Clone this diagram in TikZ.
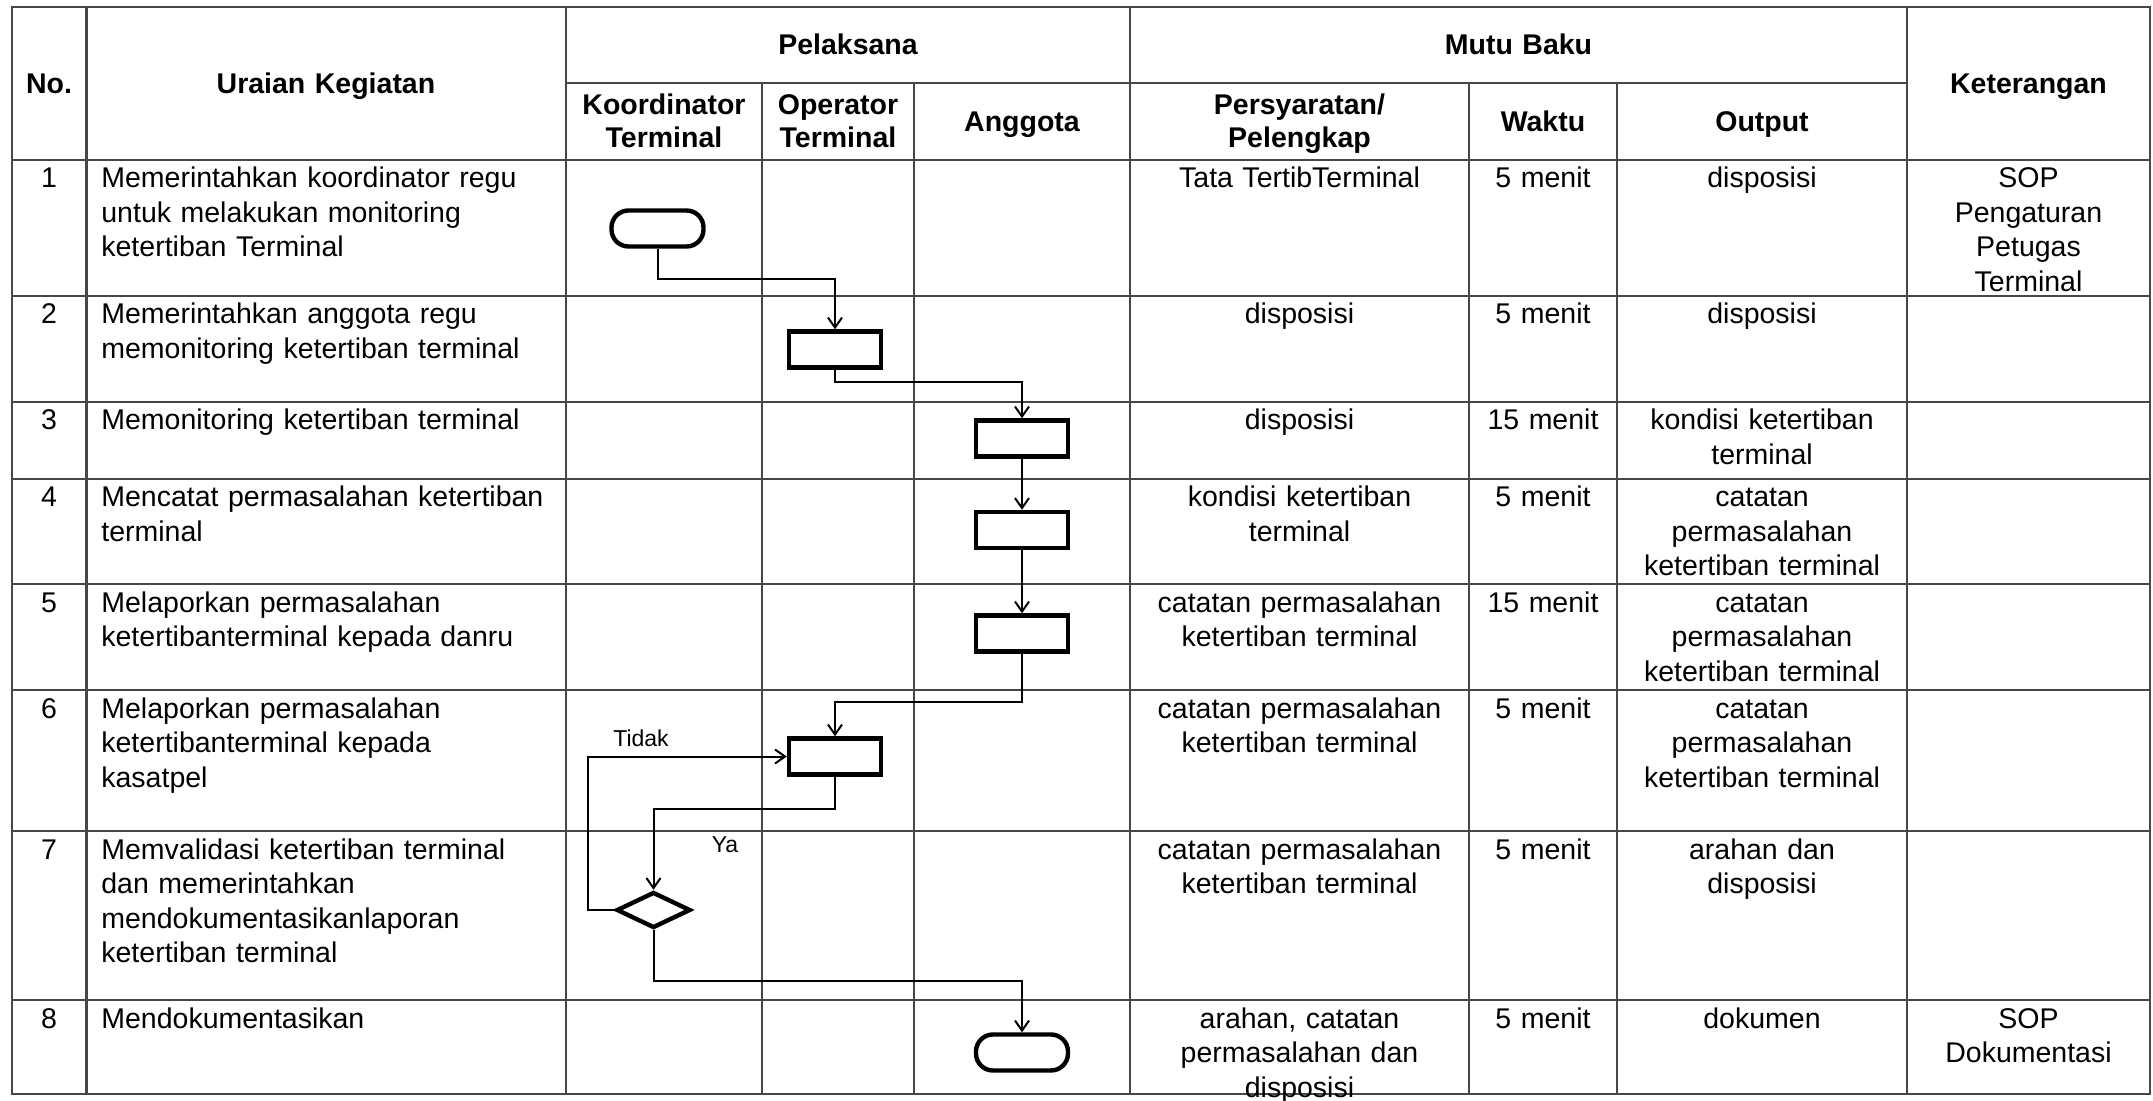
\documentclass[tikz,border=0pt]{standalone}
\usepackage{fontspec}
\setmainfont{Liberation Sans}
\usetikzlibrary{arrows.meta,shapes.geometric}
\begin{document}
\begin{tikzpicture}[x=0.5pt,y=-0.5pt,
  grid/.style={draw=black!72, line width=1.1pt},
  body/.style={inner sep=0pt, font=\fontsize{14.25}{17.25}\selectfont},
  lt/.style={body, anchor=base west, align=left, text width=232pt},
  ct/.style={body, anchor=base, align=center, text width=#1},
  ct/.default=150pt,
  hd/.style={inner sep=0pt, anchor=base, align=center, text width=#1, font=\bfseries\fontsize{14.25}{16.5}\selectfont},
  hd/.default=150pt,
  procbox/.style={draw, line width=2.2pt, minimum width=46pt, minimum height=18pt, inner sep=0pt},
  termbox/.style={procbox, rounded corners=8.5pt},
  decbox/.style={draw, diamond, line width=2.2pt, minimum width=37pt, minimum height=18pt, inner sep=0pt},
  flow/.style={line width=1pt, -{Straight Barb[length=5pt,width=7pt]}},
  lbl/.style={inner sep=0pt, anchor=base, font=\fontsize{11.5}{13}\selectfont}
]
\useasboundingbox (0,0) rectangle (2153,1101);

% ---------- table grid ----------
\draw[grid] (12,7) rectangle (2150,1094);
\foreach \yy in {160,296,402,479,584,690,831,1000} \draw[grid] (12,\yy) -- (2150,\yy);
\draw[grid] (566,83) -- (1907,83);
\foreach \xx in {86.5,566,1130,1907} \draw[grid] (\xx,7) -- (\xx,1094);
\foreach \xx in {762,914,1469,1617} \draw[grid] (\xx,83) -- (\xx,1094);

% ---------- header ----------
\node[hd=40pt] (hNo) at (49,94) {No.};
\node[hd=230pt] (hUr) at (326,94) {Uraian Kegiatan};
\node[hd] (hPel) at (848,55) {Pelaksana};
\node[hd] (hMutu) at (1518.5,55) {Mutu Baku};
\node[hd=118pt] (hKet) at (2028.5,94) {Keterangan};
\node[hd=96pt] (hKoor) at (664,115) {Koordinator\\Terminal};
\node[hd=74pt] (hOp) at (838,115) {Operator\\Terminal};
\node[hd=100pt] (hAng) at (1022,132) {Anggota};
\node[hd=165pt] (hPers) at (1299.5,115) {Persyaratan/\\Pelengkap};
\node[hd=72pt] (hWak) at (1543,132) {Waktu};
\node[hd=140pt] (hOut) at (1762,132) {Output};

% ---------- row 1 ----------
\node[ct=30pt] (n1) at (49,188) {1};
\node[lt] (u1) at (101,188) {Memerintahkan koordinator regu\\untuk melakukan monitoring\\ketertiban Terminal};
\node[ct=165pt] (p1) at (1299.5,188) {Tata TertibTerminal};
\node[ct=72pt] (w1) at (1543,188) {5 menit};
\node[ct=140pt] (o1) at (1762,188) {disposisi};
\node[ct=118pt] (k1t) at (2028.5,188) {SOP\\Pengaturan\\Petugas\\Terminal};

% ---------- row 2 ----------
\node[ct=30pt] (n2) at (49,324) {2};
\node[lt] (u2) at (101,324) {Memerintahkan anggota regu\\memonitoring ketertiban terminal};
\node[ct=165pt] (p2) at (1299.5,324) {disposisi};
\node[ct=72pt] (w2) at (1543,324) {5 menit};
\node[ct=140pt] (o2) at (1762,324) {disposisi};

% ---------- row 3 ----------
\node[ct=30pt] (n3) at (49,430) {3};
\node[lt] (u3) at (101,430) {Memonitoring ketertiban terminal};
\node[ct=165pt] (p3) at (1299.5,430) {disposisi};
\node[ct=72pt] (w3) at (1543,430) {15 menit};
\node[ct=140pt] (o3) at (1762,430) {kondisi ketertiban\\terminal};

% ---------- row 4 ----------
\node[ct=30pt] (n4) at (49,507) {4};
\node[lt] (u4) at (101,507) {Mencatat permasalahan ketertiban\\terminal};
\node[ct=165pt] (p4) at (1299.5,507) {kondisi ketertiban\\terminal};
\node[ct=72pt] (w4) at (1543,507) {5 menit};
\node[ct=140pt] (o4) at (1762,507) {catatan\\permasalahan\\ketertiban terminal};

% ---------- row 5 ----------
\node[ct=30pt] (n5) at (49,612) {5};
\node[lt] (u5) at (101,612) {Melaporkan permasalahan\\ketertibanterminal kepada danru};
\node[ct=165pt] (p5) at (1299.5,612) {catatan permasalahan\\ketertiban terminal};
\node[ct=72pt] (w5) at (1543,612) {15 menit};
\node[ct=140pt] (o5) at (1762,612) {catatan\\permasalahan\\ketertiban terminal};

% ---------- row 6 ----------
\node[ct=30pt] (n6) at (49,718) {6};
\node[lt] (u6) at (101,718) {Melaporkan permasalahan\\ketertibanterminal kepada\\kasatpel};
\node[ct=165pt] (p6) at (1299.5,718) {catatan permasalahan\\ketertiban terminal};
\node[ct=72pt] (w6) at (1543,718) {5 menit};
\node[ct=140pt] (o6) at (1762,718) {catatan\\permasalahan\\ketertiban terminal};

% ---------- row 7 ----------
\node[ct=30pt] (n7) at (49,859) {7};
\node[lt] (u7) at (101,859) {Memvalidasi ketertiban terminal\\dan memerintahkan\\mendokumentasikanlaporan\\ketertiban terminal};
\node[ct=165pt] (p7) at (1299.5,859) {catatan permasalahan\\ketertiban terminal};
\node[ct=72pt] (w7) at (1543,859) {5 menit};
\node[ct=140pt] (o7) at (1762,859) {arahan dan\\disposisi};

% ---------- row 8 ----------
\node[ct=30pt] (n8) at (49,1028) {8};
\node[lt] (u8) at (101,1028) {Mendokumentasikan};
\node[ct=165pt] (p8) at (1299.5,1028) {arahan, catatan\\permasalahan dan\\disposisi};
\node[ct=72pt] (w8) at (1543,1028) {5 menit};
\node[ct=140pt] (o8) at (1762,1028) {dokumen};
\node[ct=118pt] (k8t) at (2028.5,1028) {SOP\\Dokumentasi};

% ---------- flow shapes ----------
\node[termbox] (s1) at (657.5,228.5) {};
\node[procbox] (b2) at (835,349.5) {};
\node[procbox] (b3) at (1022,438.5) {};
\node[procbox] (b4) at (1022,530) {};
\node[procbox] (b5) at (1022,633.5) {};
\node[procbox] (b6) at (835,756.5) {};
\node[decbox] (d7) at (653.5,910) {};
\node[termbox] (e8) at (1022,1052.5) {};

\coordinate (c1) at (0,279);
\coordinate (c2) at (0,382);
\coordinate (c5) at (0,702);
\coordinate (c6) at (0,809);
\coordinate (cx) at (588,0);
\coordinate (c8) at (0,981);

\draw[flow] (s1.south) -- (s1.south |- c1) -- (b2.north |- c1) -- (b2.north);
\draw[flow] (b2.south) -- (b2.south |- c2) -- (b3.north |- c2) -- (b3.north);
\draw[flow] (b3.south) -- (b4.north);
\draw[flow] (b4.south) -- (b5.north);
\draw[flow] (b5.south) -- (b5.south |- c5) -- (b6.north |- c5) -- (b6.north);
\draw[flow] (b6.south) -- (b6.south |- c6) -- (d7.north |- c6) -- (d7.north);
\draw[flow] (d7.west) -- (cx |- d7.west) -- (cx |- b6.west) -- (b6.west);
\draw[flow] (d7.south) -- (d7.south |- c8) -- (e8.north |- c8) -- (e8.north);

\node[lbl] (tidak) at (641,746) {Tidak};
\node[lbl] (ya) at (725,852) {Ya};
\end{tikzpicture}
\end{document}
